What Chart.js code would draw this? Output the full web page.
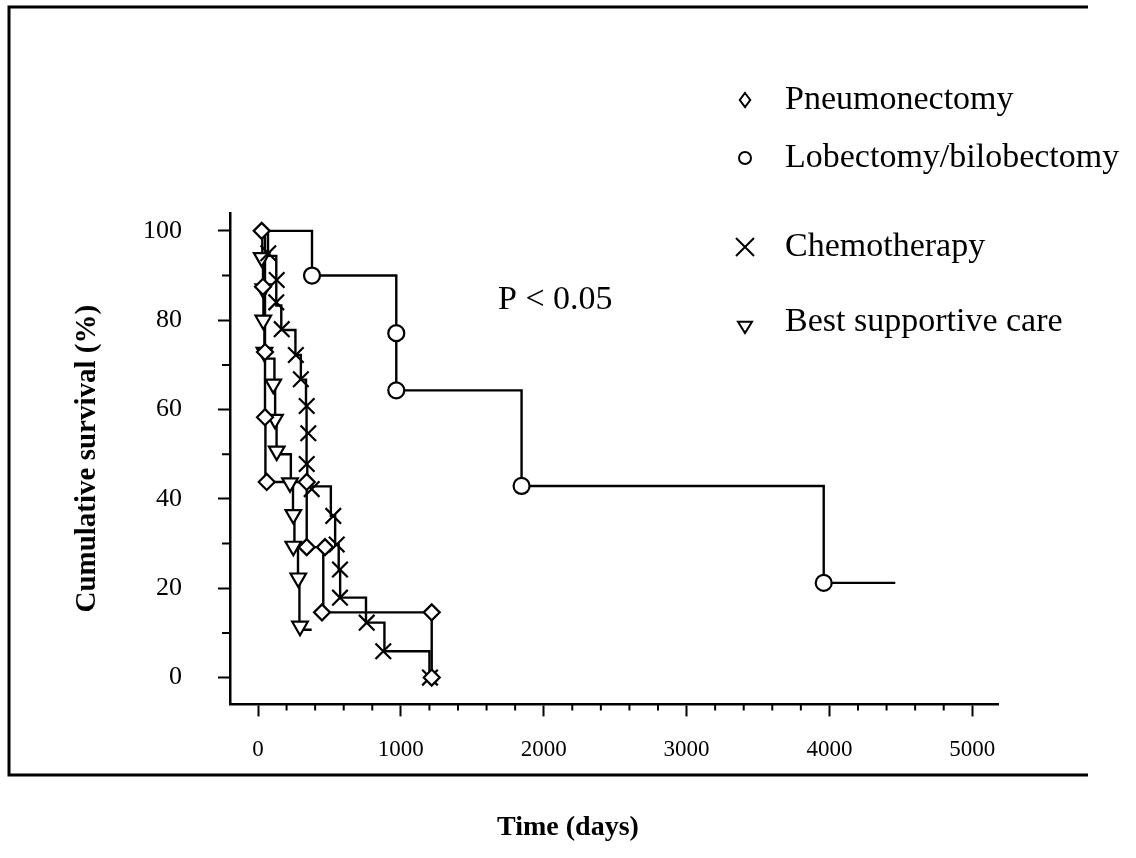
<!DOCTYPE html>
<html>
<head>
<meta charset="utf-8">
<title>Cumulative survival</title>
<script src="https://cdn.jsdelivr.net/npm/chart.js@4.4.1/dist/chart.umd.min.js"></script>
<style>
  html, body { margin: 0; padding: 0; background: #fff; }
  #wrap { width: 1136px; height: 858px; }
</style>
</head>
<body>
<div id="wrap"><canvas id="chart" width="1136" height="858"></canvas></div>
<script>
// ---------- data: [days, cumulative survival %] ----------
const xTicks = [0, 1000, 2000, 3000, 4000, 5000];
const yTicks = [0, 20, 40, 60, 80, 100];
const xMinor = [200, 400, 600, 800, 1200, 1400, 1600, 1800, 2200, 2400, 2600, 2800,
                3200, 3400, 3600, 3800, 4200, 4400, 4600, 4800];
const yMinor = [10, 30, 50, 70, 90];

const groupNames = ["Pneumonectomy", "Lobectomy/bilobectomy", "Chemotherapy", "Best supportive care"];

// step curves (value after each step)
const pneumoCurve = [[0,100],[49,87.5],[49,72.9],[49,58.3],[52,43.8],[341,29.2],[457,14.6],[1216,0]];
const lobeCurve   = [[0,100],[378,90],[968,77.1],[968,64.3],[1845,42.9],[3960,21.2],[4461,21.2]];
const chemoCurve  = [[0,100],[70,94.4],[128,88.9],[128,83.3],[163,77.8],[262,72.2],[300,66.7],[336,61.1],
                     [340,55.6],[340,47.8],[345,42.8],[510,36.2],[540,29.8],[565,24.2],[575,17.9],
                     [756,12.3],[885,5.9],[1200,0]];
const bscCurve    = [[0,100],[30,92.9],[35,85.7],[38,78.6],[45,71.4],[115,64.3],[120,57.1],[130,50],
                     [230,42.9],[245,35.7],[255,28.6],[280,21.4],[290,10.7],[376,10.7]];

// plotted symbols
const pneumoMarks = [[26,100],[35,87.5],[49,72.9],[49,58.3],[61,43.8],[341,43.8],[341,29.2],
                     [469,29.2],[448,14.6],[1216,14.6],[1216,0]];
const lobeMarks   = [[378,90],[968,77.1],[968,64.3],[1845,42.9],[3960,21.2]];
const chemoMarks  = [[72,95],[131,89],[128,84],[166,78],[265,72.2],[300,66.8],[341,60.8],[352,54.7],
                     [341,47.8],[376,42.2],[527,36.2],[551,29.8],[574,24.2],[574,17.9],[761,12.3],
                     [877,5.9],[1204,0]];
const bscMarks    = [[26,94],[37,87],[37,80],[45,72.8],[107,65.7],[119,57.8],[131,50.7],[224,43.6],
                     [247,36.5],[247,29.4],[282,22.3],[294,11.5]];

const pText = [1680, 84.5];   // position of "P < 0.05" in data units

const toXY = arr => arr.map(p => ({x: p[0], y: p[1]}));

function curve(data) {
  return { type: 'scatter', data: toXY(data), showLine: true, stepped: true,
           borderColor: '#000', borderWidth: 2.4, pointRadius: 0, fill: false, order: 2 };
}
function marks(data, style, r, rot) {
  return { type: 'scatter', data: toXY(data), showLine: false, pointStyle: style,
           pointRadius: r, pointRotation: rot || 0, pointBorderColor: '#000',
           pointBackgroundColor: '#fff', pointBorderWidth: 2.2, order: 1 };
}

const serif = 'Liberation Serif';

// legend symbols drawn by hand
function symbol(ctx, kind, x, y, r) {
  ctx.beginPath();
  if (kind === 'diamond') {
    ctx.moveTo(x, y - r); ctx.lineTo(x + r * 0.75, y); ctx.lineTo(x, y + r); ctx.lineTo(x - r * 0.75, y); ctx.closePath();
  } else if (kind === 'circle') {
    ctx.arc(x, y, r, 0, Math.PI * 2);
  } else if (kind === 'cross') {
    ctx.moveTo(x - r, y - r); ctx.lineTo(x + r, y + r); ctx.moveTo(x + r, y - r); ctx.lineTo(x - r, y + r);
  } else {
    ctx.moveTo(x - r, y - r * 0.6); ctx.lineTo(x + r, y - r * 0.6); ctx.lineTo(x, y + r); ctx.closePath();
  }
  ctx.stroke();
}

const decor = {
  id: 'decor',
  afterDraw(chart) {
    const ctx = chart.ctx, xs = chart.scales.x, ys = chart.scales.y;
    ctx.save();
    ctx.strokeStyle = '#000';
    ctx.fillStyle = '#000';
    // minor ticks
    ctx.lineWidth = 2;
    ctx.beginPath();
    xMinor.forEach(v => { const px = xs.getPixelForValue(v); ctx.moveTo(px, xs.top); ctx.lineTo(px, xs.top + 6); });
    yMinor.forEach(v => { const py = ys.getPixelForValue(v); ctx.moveTo(ys.right, py); ctx.lineTo(ys.right - 8, py); });
    ctx.stroke();
    // frame (open on the right)
    ctx.lineWidth = 3;
    ctx.beginPath();
    ctx.moveTo(1088, 7); ctx.lineTo(9, 7); ctx.lineTo(9, 775); ctx.lineTo(1088, 775);
    ctx.stroke();
    // legend
    const rows = [100, 158, 247, 322];
    const kinds = ['diamond', 'circle', 'cross', 'tri'];
    const sizes = [7, 6, 9, 7];
    ctx.lineWidth = 2;
    ctx.font = '34px "' + serif + '"';
    ctx.textAlign = 'left';
    ctx.textBaseline = 'middle';
    groupNames.forEach((n, i) => {
      symbol(ctx, kinds[i], 745, rows[i] + (i === 3 ? 4 : 0), sizes[i]);
      ctx.fillText(n, 785, rows[i]);
    });
    // p value
    ctx.fillText('P < 0.05', xs.getPixelForValue(pText[0]), ys.getPixelForValue(pText[1]));
    ctx.restore();
  }
};

new Chart(document.getElementById('chart'), {
  type: 'scatter',
  data: {
    datasets: [
      marks(pneumoMarks, 'rectRot', 8),
      marks(lobeMarks, 'circle', 8),
      marks(chemoMarks, 'crossRot', 11),
      marks(bscMarks, 'triangle', 9, 180),
      curve(pneumoCurve),
      curve(lobeCurve),
      curve(chemoCurve),
      curve(bscCurve)
    ]
  },
  options: {
    responsive: false,
    animation: false,
    layout: { padding: { left: 0, right: 0, top: 213, bottom: 0 } },
    plugins: {
      legend: { display: false },
      tooltip: { enabled: false },
      title: {
        display: true, position: 'bottom', text: 'Time (days)', color: '#000',
        font: { family: serif, size: 28, weight: 'bold' },
        padding: { top: 10, bottom: 13 }
      }
    },
    scales: {
      x: {
        type: 'linear', position: 'bottom', min: -196, max: 5180,
        afterBuildTicks: s => { s.ticks = xTicks.map(v => ({value: v})); },
        afterFit: s => { s.height = 97; },
        grid: { drawOnChartArea: false, drawTicks: true, tickLength: 12, tickWidth: 2, tickColor: '#000' },
        border: { display: true, color: '#000', width: 2.5 },
        ticks: { color: '#000', padding: 20, maxRotation: 0, autoSkip: false,
                 callback: v => String(v), font: { family: serif, size: 23 } }
      },
      y: {
        type: 'linear', position: 'left', min: -6, max: 104,
        afterBuildTicks: s => { s.ticks = yTicks.map(v => ({value: v})); },
        afterFit: s => { s.width = 230; },
        grid: { drawOnChartArea: false, drawTicks: true, tickLength: 12, tickWidth: 2, tickColor: '#000' },
        border: { display: true, color: '#000', width: 2.5 },
        ticks: { color: '#000', padding: 36, autoSkip: false, callback: v => String(v),
                 font: { family: serif, size: 26 } },
        title: {
          display: true, text: 'Cumulative survival (%)', color: '#000',
          font: { family: serif, size: 29, weight: 'bold' },
          padding: { top: 70, bottom: 0 }
        }
      },
      yRight: {
        type: 'linear', position: 'right', display: true,
        afterFit: s => { s.width = 138; },
        grid: { display: false, drawTicks: false },
        border: { display: false },
        ticks: { display: false }
      }
    }
  },
  plugins: [decor]
});
</script>
</body>
</html>
